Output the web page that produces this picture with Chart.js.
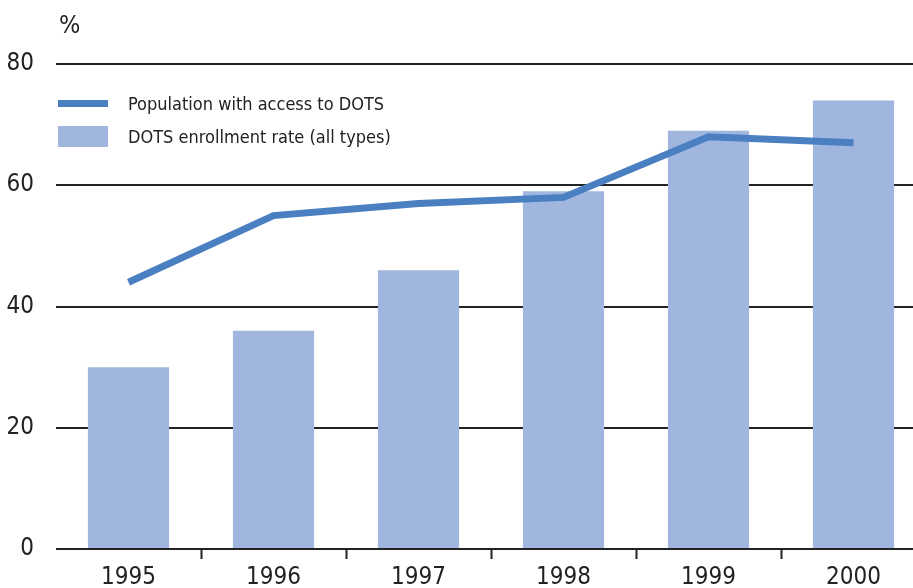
<!DOCTYPE html>
<html lang="en">
<head>
    <meta charset="UTF-8">
    <title>DOTS coverage</title>
    <script src="https://cdn.jsdelivr.net/npm/chart.js"></script>
    <style>
        body {
            margin: 0;
            padding: 0;
            overflow: hidden;
            background: #fff;
            font-family: "Liberation Sans Narrow", "DejaVu Sans Condensed", Arial, sans-serif;
        }
        #wrap {
            position: relative;
            width: 926px;
            height: 588px;
        }
        #legend {
            position: absolute;
            left: 58px;
            top: 87px;
            font-size: 18px;
            color: #222;
        }
        .item {
            display: flex;
            align-items: center;
            height: 33px;
        }
        .swatch {
            width: 50px;
            margin-right: 20px;
        }
    </style>
</head>
<body>
<div id="wrap">
    <canvas id="chart"></canvas>
    <div id="legend"></div>
</div>

<script>
    const years = ['1995', '1996', '1997', '1998', '1999', '2000'];
    const accessPct = [44, 55, 57, 58, 68, 67];
    const enrollPct = [30, 36, 46, 59, 69, 74];
    const yTicks = [0, 20, 40, 60, 80];

    const lineColor = '#4a7fc2';
    const barColor = '#a0b6df';
    const fontFamily = '"Liberation Sans Narrow", "DejaVu Sans Condensed", Arial, sans-serif';

    // the "%" unit label above the y axis
    const percentSign = {
        id: 'percentSign',
        afterDraw(chart) {
            const ctx = chart.ctx;
            ctx.save();
            ctx.font = '25px ' + fontFamily;
            ctx.fillStyle = '#222';
            ctx.textBaseline = 'top';
            ctx.fillText('%', 59, 14);
            ctx.restore();
        }
    };

    const chart = new Chart(document.getElementById('chart'), {
        type: 'bar',
        data: {
            labels: years,
            datasets: [
                {
                    type: 'line',
                    label: 'Population with access to DOTS',
                    data: accessPct,
                    borderColor: lineColor,
                    backgroundColor: lineColor,
                    borderWidth: 7,
                    pointRadius: 0,
                    tension: 0,
                    order: 0
                },
                {
                    label: 'DOTS enrollment rate (all types)',
                    data: enrollPct,
                    backgroundColor: barColor,
                    categoryPercentage: 1,
                    barPercentage: 0.56,
                    order: 1
                }
            ]
        },
        options: {
            responsive: true,
            maintainAspectRatio: false,
            animation: false,
            layout: { padding: { top: 64, left: 0, right: 0, bottom: 0 } },
            plugins: {
                legend: { display: false },
                tooltip: { enabled: false }
            },
            scales: {
                x: {
                    offset: true,
                    border: { display: false },
                    grid: {
                        offset: true,
                        drawOnChartArea: false,
                        drawTicks: true,
                        tickLength: 10,
                        tickWidth: 2,
                        tickColor: (c) => c.index === 0 ? 'rgba(0,0,0,0)' : '#222'
                    },
                    ticks: {
                        color: '#222',
                        padding: 4,
                        font: { family: fontFamily, size: 24 }
                    },
                    afterFit(scale) { scale.height = 39; }
                },
                y: {
                    min: 0,
                    max: 80,
                    border: { display: false },
                    grid: {
                        color: '#222',
                        lineWidth: 2,
                        drawTicks: false
                    },
                    afterBuildTicks(scale) {
                        scale.ticks = yTicks.map(v => ({ value: v }));
                    },
                    ticks: {
                        color: '#222',
                        padding: 22,
                        font: { family: fontFamily, size: 24 }
                    },
                    afterFit(scale) { scale.width = 56; }
                }
            }
        },
        plugins: [percentSign]
    });

    const legend = document.getElementById('legend');
    chart.data.datasets.forEach(ds => {
        const item = document.createElement('div');
        item.className = 'item';
        const sw = document.createElement('div');
        sw.className = 'swatch';
        sw.style.background = ds.type === 'line' ? ds.borderColor : ds.backgroundColor;
        sw.style.height = ds.type === 'line' ? '7px' : '21px';
        const txt = document.createElement('span');
        txt.textContent = ds.label;
        item.appendChild(sw);
        item.appendChild(txt);
        legend.appendChild(item);
    });
</script>
</body>
</html>
